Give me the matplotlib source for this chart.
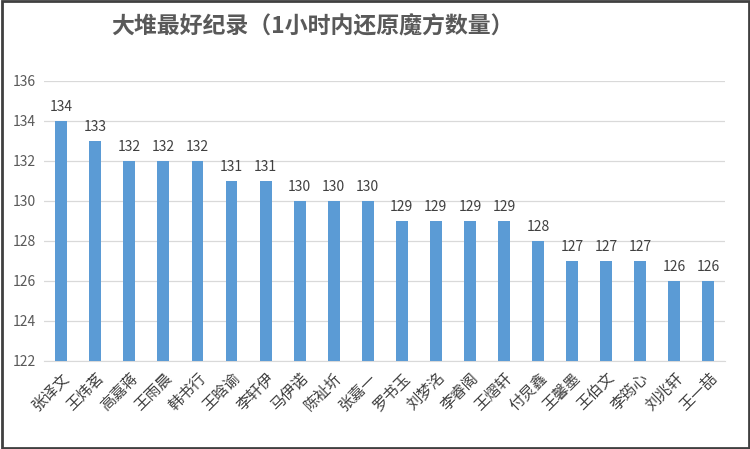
import matplotlib
matplotlib.use("Agg")
import matplotlib.pyplot as plt
from matplotlib.patches import Rectangle

plt.rcParams['font.family'] = ['Noto Sans CJK SC', 'DejaVu Sans']

names = ["张译文", "王炜茗", "高嘉蒋", "王雨晨", "韩书行", "王晗谕", "李轩伊", "马伊诺",
         "陈祉圻", "张嘉一", "罗书玉", "刘梦洺", "李睿阁", "王熠轩", "付炅鑫", "王馨墨",
         "王伯文", "李筠心", "刘兆轩", "王一喆"]
values = [134, 133, 132, 132, 132, 131, 131, 130, 130, 130, 129, 129, 129, 129, 128,
          127, 127, 127, 126, 126]
yticks = [122, 124, 126, 128, 130, 132, 134, 136]
title = "大堆最好纪录（1小时内还原魔方数量）"

fig = plt.figure(figsize=(7.5, 4.49), dpi=100)
ax = fig.add_axes([0.059, 0.196, 0.908, 0.6236])

x = list(range(len(names)))
ax.bar(x, values, width=0.35, color="#5B9BD5", zorder=3, bottom=0)
for xi, v in zip(x, values):
    ax.text(xi, v + 0.35, str(v), ha="center", va="bottom", fontsize=10, color="#404040")

ax.set_ylim(122, 136)
ax.set_xlim(-0.5, len(names) - 0.5)
ax.set_yticks(yticks)
ax.set_yticklabels([str(t) for t in yticks], fontsize=10, color="#595959")
ax.yaxis.grid(True, color="#D9D9D9", linewidth=0.9, zorder=0)
ax.set_xticks(x)
ax.set_xticklabels(names, rotation=45, ha="right", rotation_mode="anchor",
                   fontsize=11, color="#404040")
ax.tick_params(axis="both", length=0, pad=6)
for s in ["top", "right", "left"]:
    ax.spines[s].set_visible(False)
ax.spines["bottom"].set_color("#D9D9D9")

fig.text(0.148, 0.94, title, fontsize=16.5, fontweight="bold", color="#595959",
         ha="left", va="center")

fig.patches.append(Rectangle((0.002, 0.003), 0.996, 0.994, transform=fig.transFigure,
                             fill=False, edgecolor="#404040", linewidth=2))

fig.savefig("out.png", dpi=100)
